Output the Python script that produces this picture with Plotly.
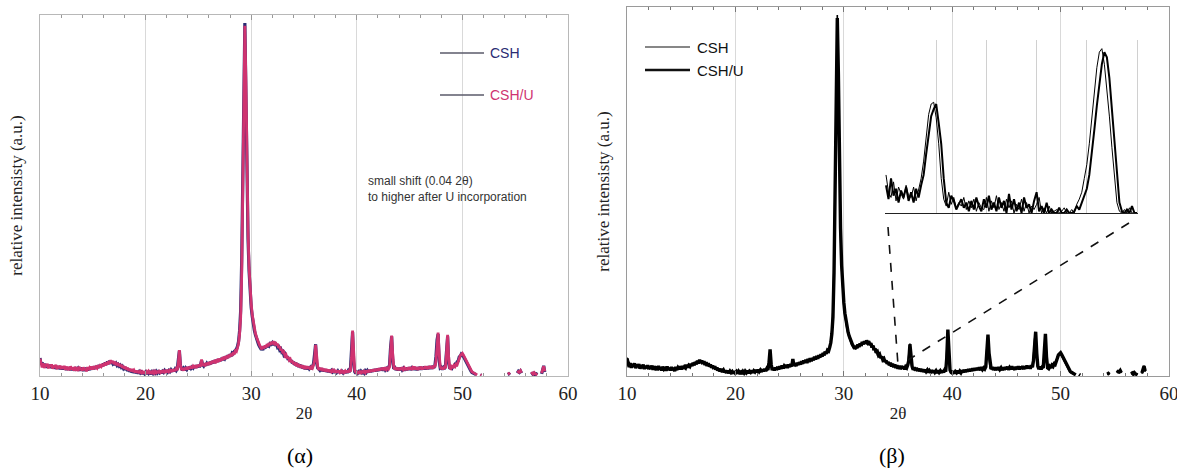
import plotly.graph_objects as go

# ---------------- data ----------------
# XRD scan: start angle and step of the 2-theta grid
scan_start = 10.0
scan_step = 0.1

csh = [
    5.0, 3.2, 3.8, 2.6, 3.4, 2.4, 3.2, 2.3, 3.0, 2.4,
    3.1, 2.2, 2.9, 2.1, 2.8, 2.0, 2.7, 2.1, 2.6, 1.9,
    2.6, 1.8, 2.5, 1.9, 2.4, 1.7, 2.3, 1.8, 2.4, 1.6,
    2.3, 1.6, 2.2, 1.5, 2.4, 1.7, 2.1, 1.5, 2.2, 1.6,
    2.3, 1.4, 2.2, 1.5, 2.3, 1.6, 2.2, 1.7, 2.4, 1.8,
    2.5, 1.9, 2.7, 2.1, 2.8, 2.2, 3.0, 2.4, 3.1, 2.7,
    3.4, 2.9, 3.7, 3.1, 4.0, 3.3, 4.2, 3.5, 4.0, 3.4,
    3.8, 3.1, 3.5, 2.9, 3.2, 2.7, 3.0, 2.4, 2.7, 2.1,
    2.5, 1.7, 2.2, 1.4, 1.9, 1.2, 1.7, 1.0, 1.5, 0.9,
    1.4, 0.8, 1.3, 0.7, 1.2, 0.8, 1.1, 0.6, 1.2, 0.7,
    1.1, 0.6, 1.2, 0.7, 1.0, 0.5, 1.1, 0.7, 1.2, 0.8,
    1.3, 0.8, 1.2, 0.9, 1.4, 0.8, 1.3, 1.0, 1.5, 1.0,
    1.6, 1.1, 1.5, 1.2, 1.7, 1.2, 1.8, 1.3, 1.9, 1.5,
    2.0, 4.0, 7.0, 2.8, 2.0, 1.6, 2.1, 1.6, 2.2, 1.8,
    2.4, 1.9, 2.6, 2.1, 2.5, 2.2, 2.8, 2.3, 2.9, 2.4,
    3.0, 2.5, 3.1, 4.3, 3.2, 2.8, 3.4, 2.9, 3.5, 3.1,
    3.8, 3.2, 4.0, 3.5, 4.2, 3.6, 4.4, 3.9, 4.6, 4.0,
    4.7, 4.2, 5.0, 4.4, 5.2, 4.8, 5.4, 4.9, 5.7, 5.3,
    6.0, 5.5, 6.4, 6.2, 6.8, 7.2, 7.4, 8.2, 9.5, 12.5,
    18.0, 32.0, 58.0, 88.0, 97.8, 78.0, 54.0, 38.0, 29.0, 23.0,
    19.0, 16.5, 14.2, 12.6, 11.4, 10.3, 9.4, 8.7, 8.1, 7.6,
    7.8, 7.2, 8.0, 7.6, 8.4, 8.0, 8.8, 8.4, 9.0, 8.8,
    9.2, 8.6, 9.4, 8.4, 8.8, 7.9, 8.1, 7.2, 7.5, 6.6,
    6.8, 5.8, 6.1, 5.1, 5.5, 4.5, 4.9, 4.0, 4.4, 3.5,
    3.9, 3.1, 3.7, 2.8, 3.4, 2.5, 3.2, 2.3, 3.0, 2.1,
    2.7, 1.9, 2.6, 1.8, 2.5, 2.0, 2.4, 1.9, 2.7, 3.4,
    6.0, 8.8, 3.6, 2.2, 2.0, 1.6, 2.1, 1.4, 1.9, 1.3,
    1.8, 1.2, 1.7, 1.1, 1.6, 1.0, 1.5, 1.1, 1.4, 0.9,
    1.5, 1.0, 1.4, 0.9, 1.5, 0.8, 1.3, 0.9, 1.4, 0.8,
    1.4, 0.9, 1.5, 1.1, 2.0, 7.5, 12.2, 4.0, 1.2, 0.7,
    1.3, 0.8, 1.2, 0.7, 1.3, 0.9, 1.2, 0.8, 1.4, 1.0,
    1.5, 1.0, 1.6, 1.1, 1.7, 1.2, 1.8, 1.3, 1.9, 1.4,
    2.0, 1.5, 2.1, 1.6, 2.2, 1.5, 2.3, 1.7, 2.1, 1.8,
    2.4, 3.0, 8.0, 11.0, 4.5, 2.0, 2.3, 1.7, 2.2, 1.6,
    2.2, 1.6, 2.3, 1.7, 2.1, 1.5, 2.2, 1.6, 2.3, 1.7,
    2.4, 1.7, 2.2, 1.8, 2.5, 1.7, 2.3, 1.6, 2.4, 1.8,
    2.5, 1.8, 2.4, 1.9, 2.6, 1.8, 2.5, 1.9, 2.7, 2.0,
    2.6, 2.0, 2.8, 2.2, 3.0, 5.5, 10.0, 11.6, 4.2, 2.2,
    2.4, 1.8, 2.3, 1.9, 3.0, 8.0, 11.0, 3.8, 2.0, 2.3,
    2.1, 2.8, 2.4, 3.1, 2.8, 3.9, 4.2, 5.3, 5.5, 6.1,
    5.9, 5.4, 4.8, 4.2, 3.5, 2.9, 2.3, 1.8, 1.4, 1.0,
    0.9, 0.7, 0.5, 0.4, None, None, None, 0.3, 0.2, None,
    None, None, None, None, None, None, None, None, None, None,
    None, None, None, None, None, None, None, None, None, None,
    None, None, None, 0.4, 0.6, 0.3, None, None, None, None,
    None, None, 0.8, 1.3, 1.0, 1.4, 0.8, None, None, None,
    None, None, None, None, None, 0.5, 0.7, 0.4, 0.8, 0.5,
    0.6, 0.4, None, None, None, 0.6, 1.4, 2.8, 1.1, None,
    None,
]

csh_u = [
    4.8, 3.6, 2.4, 3.5, 2.2, 3.3, 2.6, 3.4, 2.1, 3.1,
    2.5, 3.2, 2.0, 2.9, 2.3, 3.1, 1.9, 2.8, 2.2, 2.9,
    1.9, 2.7, 2.0, 2.8, 1.7, 2.6, 2.1, 2.5, 1.6, 2.7,
    1.8, 2.4, 1.5, 2.5, 1.9, 2.3, 1.4, 2.6, 1.7, 2.2,
    1.5, 2.4, 1.6, 2.2, 1.3, 2.5, 1.7, 2.3, 1.9, 2.6,
    1.8, 2.7, 2.0, 2.5, 2.2, 3.0, 2.3, 2.9, 2.6, 3.3,
    2.7, 3.6, 2.9, 3.8, 3.2, 4.1, 3.4, 4.4, 3.6, 4.2,
    3.3, 4.0, 3.0, 3.7, 2.8, 3.4, 2.6, 3.1, 2.3, 2.8,
    2.0, 2.6, 1.8, 2.3, 1.5, 2.0, 1.3, 1.9, 1.2, 1.6,
    1.0, 1.5, 0.9, 1.4, 0.8, 1.3, 0.9, 1.2, 0.7, 1.3,
    0.8, 1.2, 0.7, 1.3, 0.9, 1.1, 0.6, 1.2, 0.8, 1.3,
    0.9, 1.4, 0.8, 1.3, 1.0, 1.5, 0.9, 1.4, 1.1, 1.6,
    1.0, 1.7, 1.2, 1.6, 1.1, 1.8, 1.3, 1.9, 1.4, 2.0,
    1.6, 3.6, 7.2, 3.2, 1.6, 2.2, 1.5, 2.3, 1.7, 2.5,
    1.8, 2.6, 2.0, 2.8, 2.1, 2.7, 2.3, 3.0, 2.2, 3.1,
    2.5, 3.2, 2.6, 4.6, 2.8, 3.4, 2.7, 3.6, 3.0, 3.7,
    3.1, 4.0, 3.3, 4.2, 3.6, 4.4, 3.5, 4.6, 3.8, 4.8,
    4.0, 4.9, 4.3, 5.2, 4.5, 5.4, 4.7, 5.6, 5.0, 5.9,
    5.3, 6.2, 5.6, 6.6, 6.0, 7.0, 6.8, 7.8, 9.0, 11.5,
    16.0, 28.0, 52.0, 84.0, 97.0, 82.0, 58.0, 40.0, 30.0, 24.0,
    20.0, 17.0, 15.0, 13.0, 11.8, 10.8, 9.8, 9.1, 8.5, 8.0,
    7.4, 8.2, 7.6, 8.5, 7.9, 8.8, 8.2, 9.2, 8.6, 9.4,
    8.8, 9.6, 9.0, 9.4, 8.5, 8.9, 7.8, 8.2, 7.1, 7.4,
    6.3, 6.6, 5.6, 5.9, 4.9, 5.3, 4.4, 4.7, 3.8, 4.2,
    3.3, 3.8, 2.9, 3.6, 2.6, 3.3, 2.4, 3.1, 2.2, 2.9,
    2.0, 2.8, 1.9, 2.7, 2.1, 2.6, 1.8, 2.5, 2.2, 3.0,
    4.2, 8.6, 5.0, 2.6, 1.7, 2.3, 1.6, 2.2, 1.4, 2.0,
    1.3, 1.9, 1.2, 1.8, 1.1, 1.7, 1.2, 1.6, 1.0, 1.5,
    1.1, 1.6, 0.9, 1.5, 1.0, 1.4, 0.8, 1.5, 1.0, 1.4,
    0.9, 1.5, 1.0, 1.6, 1.2, 5.0, 12.6, 6.0, 1.6, 1.0,
    0.8, 1.3, 0.7, 1.2, 0.9, 1.4, 0.8, 1.3, 0.9, 1.5,
    1.0, 1.6, 1.1, 1.7, 1.2, 1.8, 1.3, 1.9, 1.4, 2.0,
    1.5, 2.1, 1.6, 2.2, 1.7, 2.3, 1.6, 2.4, 1.8, 2.2,
    1.9, 2.5, 6.0, 11.2, 6.2, 2.6, 1.8, 2.4, 1.7, 2.3,
    1.6, 2.3, 1.7, 2.4, 1.8, 2.2, 1.6, 2.3, 1.7, 2.4,
    1.8, 2.5, 1.7, 2.3, 1.9, 2.6, 1.8, 2.4, 1.7, 2.5,
    1.9, 2.6, 1.8, 2.5, 2.0, 2.7, 1.9, 2.6, 2.0, 2.8,
    2.1, 2.7, 2.0, 2.9, 2.4, 4.2, 8.0, 12.0, 6.2, 2.6,
    1.9, 2.5, 1.8, 2.4, 2.2, 6.0, 11.4, 5.2, 2.2, 2.0,
    2.6, 2.2, 2.9, 2.6, 3.3, 3.1, 4.4, 4.8, 5.7, 5.9,
    6.3, 5.8, 5.2, 4.6, 3.8, 3.2, 2.6, 2.0, 1.6, 1.2,
    1.0, 0.8, 0.6, 0.5, 0.3, None, None, 0.4, 0.2, None,
    None, None, None, None, None, None, None, None, None, None,
    None, None, None, None, None, None, None, None, None, None,
    None, None, None, 0.5, 0.7, 0.4, None, None, None, None,
    None, None, 0.9, 1.2, 1.1, 1.5, 0.9, None, None, None,
    None, None, None, None, None, 0.6, 0.8, 0.5, 0.9, 0.6,
    0.5, 0.3, None, None, None, 0.8, 1.6, 2.7, 1.3, None,
    None,
]

# inset (magnified detail), step 0.05 on a 0..5 scale
inset_start = 0.0
inset_step = 0.05
inset_csh = [
    22, 12, 9, 18, 7, 15, 11, 8, 16, 10,
    9, 15, 7, 13, 20, 30, 45, 57, 63, 64,
    55, 40, 20, 8, 4, 12, 5, 9, 3, 6,
    4, 9, 2, 7, 3, 8, 1, 6, 3, 2,
    9, 1, 7, 3, 10, 2, 6, 1, 8, 3,
    7, 0, 5, 2, 8, 1, 6, 0, 4, 2,
    5, 9, 0, 3, 0, 4, 0, 1, 2, 0,
    1, 3, 0, 0, 2, 0, 5, 8, 12, 20,
    28, 40, 54, 70, 84, 93, 95, 86, 72, 56,
    38, 20, 6, 1, 0, 2, 0, 3, 0, 0,
    0,
]
inset_csh_u = [
    16, 8, 20, 10, 14, 6, 13, 9, 15, 7,
    12, 6, 14, 9, 16, 22, 34, 46, 56, 60,
    63, 52, 40, 20, 6, 3, 10, 7, 2, 5,
    8, 3, 6, 1, 7, 2, 9, 4, 1, 8,
    3, 10, 2, 6, 1, 9, 3, 7, 0, 11,
    2, 8, 1, 6, 0, 9, 3, 5, 0, 7,
    12, 1, 4, 0, 6, 0, 2, 0, 0, 3,
    0, 0, 2, 0, 0, 1, 4, 2, 6, 10,
    14, 22, 34, 48, 62, 76, 86, 93, 90, 78,
    60, 40, 20, 6, 1, 0, 2, 0, 4, 0,
    0,
]

x_ticks = [10, 20, 30, 40, 50, 60]
inset_grid = [0, 1, 2, 3, 4, 5]
series_names = ["CSH", "CSH/U"]
panel_labels = ["(α)", "(β)"]

two_theta = [round(scan_start + scan_step * i, 2) for i in range(len(csh))]
inset_x = [round(inset_start + inset_step * i, 2) for i in range(len(inset_csh))]

# ---------------- layout helpers ----------------
W, H = 1177, 475


def px(x):
    return x / W


def py(y):
    return 1 - y / H


SERIF = "Liberation Serif, Times New Roman, serif"
SANS = "Liberation Sans, Arial, sans-serif"

NAVY = "#2a2c73"
PINK = "#cf3370"

fig = go.Figure()

# panel alpha
fig.add_trace(go.Scatter(x=two_theta, y=csh, mode="lines", name=series_names[0],
                         line=dict(color=NAVY, width=3.2), xaxis="x", yaxis="y",
                         showlegend=False, connectgaps=False))
fig.add_trace(go.Scatter(x=two_theta, y=csh_u, mode="lines", name=series_names[1],
                         line=dict(color=PINK, width=2.8), xaxis="x", yaxis="y",
                         showlegend=False, connectgaps=False))
# panel beta
fig.add_trace(go.Scatter(x=two_theta, y=csh, mode="lines", name=series_names[0],
                         line=dict(color="#000000", width=1.6), xaxis="x2", yaxis="y2",
                         showlegend=False, connectgaps=False))
fig.add_trace(go.Scatter(x=two_theta, y=csh_u, mode="lines", name=series_names[1],
                         line=dict(color="#000000", width=3.4), xaxis="x2", yaxis="y2",
                         showlegend=False, connectgaps=False))
# inset
fig.add_trace(go.Scatter(x=inset_x, y=inset_csh, mode="lines", name=series_names[0],
                         line=dict(color="#000000", width=1.0), xaxis="x3", yaxis="y3",
                         showlegend=False))
fig.add_trace(go.Scatter(x=inset_x, y=inset_csh_u, mode="lines", name=series_names[1],
                         line=dict(color="#000000", width=2.0), xaxis="x3", yaxis="y3",
                         showlegend=False))


def main_xaxis(domain, anchor, linecolor, tickcolor):
    return dict(
        domain=domain, anchor=anchor, range=[10, 60], automargin=False,
        tickmode="array", tickvals=x_ticks, ticktext=[str(v) for v in x_ticks],
        ticks="inside", ticklen=5, tickcolor=tickcolor, ticklabeloverflow="allow",
        minor=dict(dtick=2, ticks="inside", ticklen=3, tickcolor=tickcolor, showgrid=False),
        showline=True, linecolor=linecolor, linewidth=1, mirror="ticks",
        showgrid=True, gridcolor="#d9d9d9", gridwidth=1,
        zeroline=False,
        tickfont=dict(family=SERIF, size=19, color="#222"),
        title=dict(text="2θ", font=dict(family=SERIF, size=17, color="#222"), standoff=4),
        fixedrange=True,
    )


def main_yaxis(domain, anchor, linecolor, standoff):
    return dict(
        domain=domain, anchor=anchor, range=[0, 100], automargin=False,
        showticklabels=False, ticks="", showgrid=False, zeroline=False,
        showline=True, linecolor=linecolor, linewidth=1, mirror=True,
        title=dict(text="relative intensisty (a.u.)",
                   font=dict(family=SERIF, size=17, color="#222"), standoff=standoff),
        fixedrange=True,
    )


fig.update_layout(
    width=W, height=H,
    margin=dict(l=0, r=0, t=0, b=0, autoexpand=False),
    paper_bgcolor="white", plot_bgcolor="rgba(0,0,0,0)",
    xaxis=main_xaxis([px(40), px(568)], "y", "#b8b8b8", "#999"),
    yaxis=main_yaxis([py(376), py(15)], "x", "#b8b8b8", 12),
    xaxis2=main_xaxis([px(627), px(1169)], "y2", "#9a9a9a", "#777"),
    yaxis2=main_yaxis([py(376), py(7)], "x2", "#9a9a9a", 12),
    xaxis3=dict(domain=[px(885), px(1138)], anchor="y3", range=[-0.02, 5.02],
                automargin=False,
                showticklabels=False, ticks="", showgrid=True, gridcolor="#d0d0d0",
                tickmode="array", tickvals=inset_grid, zeroline=False,
                showline=True, linecolor="#222", linewidth=1.2, fixedrange=True),
    yaxis3=dict(domain=[py(213), py(40)], anchor="x3", range=[0, 100], automargin=False,
                showticklabels=False, ticks="", showgrid=False, zeroline=False,
                showline=False, fixedrange=True),
    showlegend=False,
)

# dashed zoom connector lines
fig.add_shape(type="line", xref="paper", yref="paper",
              x0=px(888), y0=py(227), x1=px(898), y1=py(365),
              line=dict(color="#111", width=1.6, dash="dash"))
fig.add_shape(type="line", xref="paper", yref="paper",
              x0=px(1129), y0=py(223), x1=px(908), y1=py(360),
              line=dict(color="#111", width=1.6, dash="dash"))

# legend for panel alpha (drawn manually)
for i, (yy, col) in enumerate([(53, NAVY), (95, PINK)]):
    fig.add_shape(type="line", xref="paper", yref="paper",
                  x0=px(440), y0=py(yy), x1=px(484), y1=py(yy),
                  line=dict(color="#5a5a6a", width=1.5))
    fig.add_annotation(xref="paper", yref="paper", x=px(488), y=py(yy),
                       xanchor="left", yanchor="middle", showarrow=False,
                       text=series_names[i], font=dict(family=SANS, size=14, color=col))

# legend for panel beta
for i, (yy, wdt) in enumerate([(47, 1.2), (70, 2.6)]):
    fig.add_shape(type="line", xref="paper", yref="paper",
                  x0=px(645), y0=py(yy), x1=px(690), y1=py(yy),
                  line=dict(color="#111", width=wdt))
    fig.add_annotation(xref="paper", yref="paper", x=px(695), y=py(yy),
                       xanchor="left", yanchor="middle", showarrow=False,
                       text=series_names[i], font=dict(family=SANS, size=15, color="#111"))

# note in panel alpha
fig.add_annotation(xref="paper", yref="paper", x=px(366), y=py(189),
                   xanchor="left", yanchor="middle", showarrow=False, align="left",
                   text="small shift (0.04 2θ)<br>to higher after U incorporation",
                   font=dict(family=SANS, size=12, color="#333"))

# panel labels
fig.add_annotation(xref="paper", yref="paper", x=px(300), y=py(455),
                   xanchor="center", yanchor="middle", showarrow=False,
                   text=panel_labels[0], font=dict(family=SERIF, size=22, color="#000"))
fig.add_annotation(xref="paper", yref="paper", x=px(892), y=py(455),
                   xanchor="center", yanchor="middle", showarrow=False,
                   text=panel_labels[1], font=dict(family=SERIF, size=22, color="#000"))

fig.write_html("out.html")
